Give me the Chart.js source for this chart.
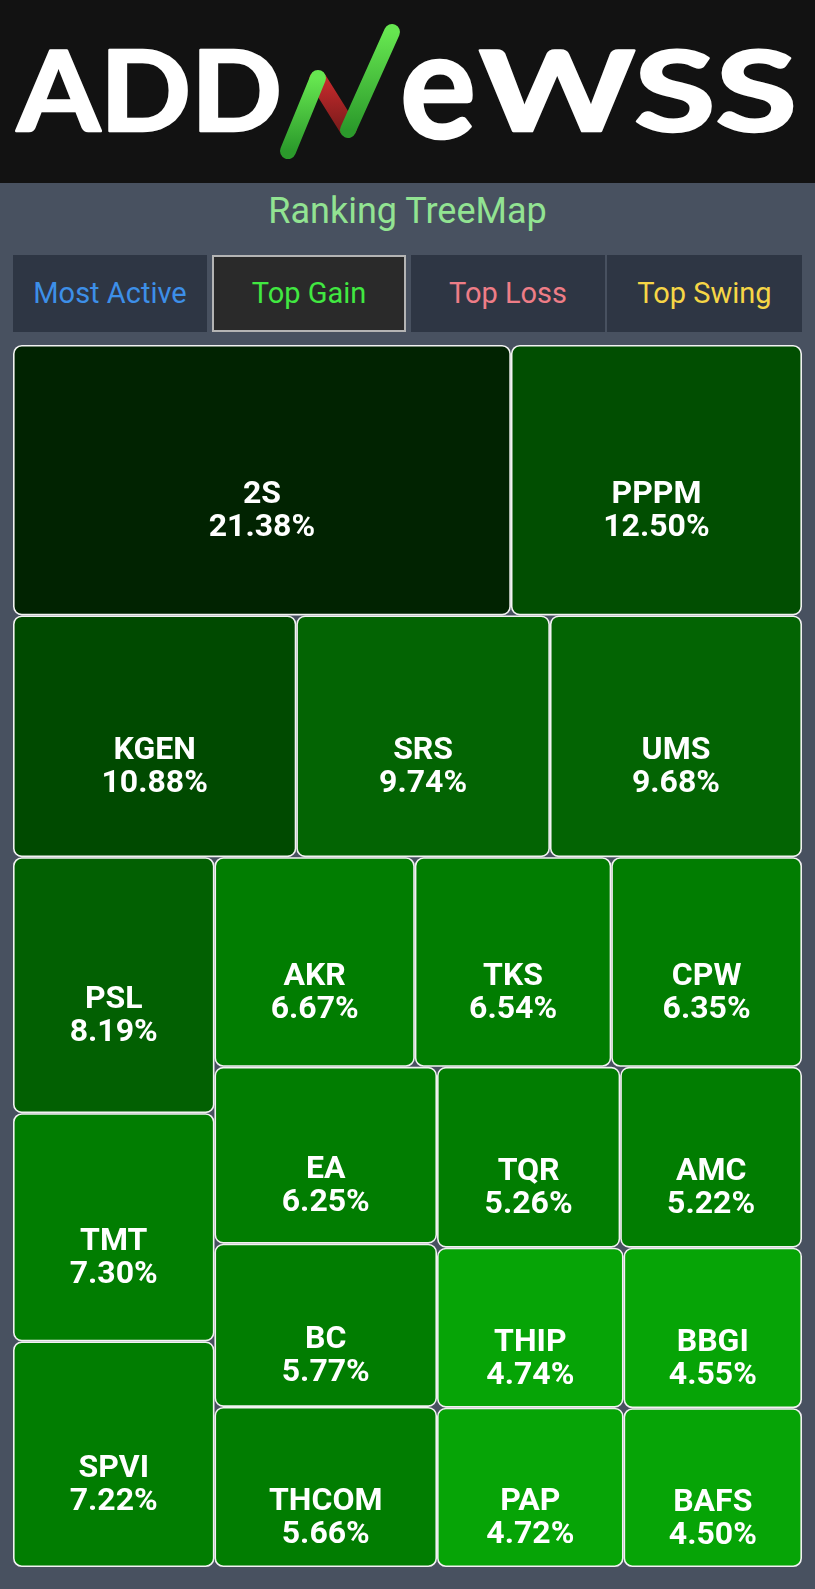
<!DOCTYPE html>
<html>
<head>
<meta charset="utf-8">
<title>Ranking TreeMap</title>
<script src="https://cdn.jsdelivr.net/npm/chart.js@4.4.1/dist/chart.umd.min.js"></script>
<style>
  html, body { margin: 0; padding: 0; }
  body { width: 815px; height: 1589px; overflow: hidden; background: #485160; font-family: Roboto, sans-serif; position: relative; }
  .header { position: absolute; left: 0; top: 0; width: 815px; height: 183px; background: #121212; }
  .title { position: absolute; left: 0; top: 186px; width: 815px; height: 50px; line-height: 50px; text-align: center; font-size: 36px; color: #92e392; }
  .tab { position: absolute; top: 255px; height: 77px; width: 194px; line-height: 77px; text-align: center; font-size: 29px; background: #2e3644; box-sizing: border-box; }
  .tab.active { background: #2a2a2a; border: 2px solid #b4b4b4; line-height: 73px; }
  .chart-box { position: absolute; left: 13px; top: 345px; width: 789px; height: 1222px; }
</style>
</head>
<body>
<div class="header">
  <svg width="815" height="183" viewBox="0 0 815 183">
    <defs>
      <linearGradient id="grn" x1="0" y1="1" x2="0" y2="0">
        <stop offset="0" stop-color="#2b9a2b"/>
        <stop offset="1" stop-color="#66e650"/>
      </linearGradient>
      <linearGradient id="red" x1="0" y1="0" x2="0" y2="1">
        <stop offset="0" stop-color="#c52a2c"/>
        <stop offset="1" stop-color="#7e1c1c"/>
      </linearGradient>
    </defs>
    <g font-family="Lato, 'DejaVu Sans', sans-serif" font-weight="bold" fill="#fff" stroke="#fff" stroke-width="2.5" stroke-linejoin="round">
      <text x="17" y="131" font-size="112" textLength="265" lengthAdjust="spacingAndGlyphs">ADD</text>
      <text x="400" y="138" font-size="150" textLength="76" lengthAdjust="spacingAndGlyphs">e</text>
      <text x="479" y="131" font-size="112" textLength="318" lengthAdjust="spacingAndGlyphs">WSS</text>
    </g>
    <g stroke-linecap="round" fill="none">
      <line x1="318" y1="80" x2="348" y2="128" stroke="url(#red)" stroke-width="18"/>
      <line x1="288" y1="151" x2="318" y2="78" stroke="url(#grn)" stroke-width="16"/>
      <line x1="348" y1="130" x2="392" y2="32" stroke="url(#grn)" stroke-width="16"/>
    </g>
  </svg>
</div>
<div class="title">Ranking TreeMap</div>
<div class="tab" style="left:13px;color:#3d8fe8;">Most Active</div>
<div class="tab active" style="left:212px;color:#41e841;">Top Gain</div>
<div class="tab" style="left:411px;color:#ee7d87;">Top Loss</div>
<div class="tab" style="left:607px;width:195px;color:#f6d646;">Top Swing</div>
<div class="chart-box"><canvas id="treemap"></canvas></div>

<script>
'use strict'

// TOP GAIN - ticker and % change
const tickers = ['2S', 'PPPM', 'KGEN', 'SRS', 'UMS', 'PSL', 'TMT', 'SPVI', 'AKR', 'TKS',
  'CPW', 'EA', 'BC', 'THCOM', 'TQR', 'AMC', 'THIP', 'PAP', 'BBGI', 'BAFS']
const gains = [21.38, 12.50, 10.88, 9.74, 9.68, 8.19, 7.30, 7.22, 6.67, 6.54,
  6.35, 6.25, 5.77, 5.66, 5.26, 5.22, 4.74, 4.72, 4.55, 4.50]

// bigger gain -> darker green
function cellColor(v) {
  if (v >= 20) return '#012301'
  if (v >= 12) return '#014e01'
  if (v >= 10) return '#004a00'
  if (v >= 9) return '#036403'
  if (v >= 8) return '#026002'
  if (v >= 5) return '#017d01'
  return '#06a406'
}

// squarified layout, values must be sorted big -> small
function squarify(values, rect) {
  const total = values.reduce((a, b) => a + b, 0)
  const k = rect.w * rect.h / total
  const worst = (row, side) => {
    const s = row.reduce((a, b) => a + b, 0)
    return Math.max(side * side * Math.max(...row) / (s * s), (s * s) / (side * side * Math.min(...row)))
  }
  const out = []
  let r = { ...rect }
  let i = 0
  while (i < values.length) {
    const side = Math.min(r.w, r.h)
    let row = [values[i] * k]
    let j = i + 1
    while (j < values.length) {
      const next = row.concat(values[j] * k)
      if (worst(next, side) > worst(row, side)) break
      row = next
      j++
    }
    const s = row.reduce((a, b) => a + b, 0)
    if (r.w <= r.h) {
      const h = s / r.w
      let x = r.x
      row.forEach((a, n) => { const w = a / h; out.push({ idx: i + n, x, y: r.y, w, h }); x += w })
      r = { x: r.x, y: r.y + h, w: r.w, h: r.h - h }
    } else {
      const w = s / r.h
      let y = r.y
      row.forEach((a, n) => { const h = a / w; out.push({ idx: i + n, x: r.x, y, w, h }); y += h })
      r = { x: r.x + w, y: r.y, w: r.w - w, h: r.h }
    }
    i = j
  }
  return out
}

const treemapPlugin = {
  id: 'treemapCells',
  afterDatasetsDraw(chart) {
    const { ctx, chartArea, scales } = chart
    const aw = chartArea.right - chartArea.left
    const ah = chartArea.bottom - chartArea.top
    // layout in units of the x / y scales (0..1), keeping the area's proportions
    const cells = squarify(gains, { x: 0, y: 0, w: aw, h: ah })
      .map(c => ({ idx: c.idx, x0: c.x / aw, x1: (c.x + c.w) / aw, y0: c.y / ah, y1: (c.y + c.h) / ah }))

    ctx.save()
    cells.forEach(c => {
      const left = scales.x.getPixelForValue(c.x0)
      const right = scales.x.getPixelForValue(c.x1)
      const top = scales.y.getPixelForValue(c.y0)
      const bottom = scales.y.getPixelForValue(c.y1)
      const pad = 0.8
      ctx.beginPath()
      ctx.roundRect(left + pad, top + pad, right - left - pad * 2, bottom - top - pad * 2, 8)
      ctx.fillStyle = cellColor(gains[c.idx])
      ctx.fill()
      ctx.lineWidth = 1.6
      ctx.strokeStyle = '#f2f2f2'
      ctx.stroke()

      const cx = (left + right) / 2
      const cy = (top + bottom) / 2
      ctx.fillStyle = '#ffffff'
      ctx.font = 'bold 32px Roboto'
      ctx.textAlign = 'center'
      ctx.textBaseline = 'alphabetic'
      ctx.fillText(tickers[c.idx], cx, cy + 23)
      ctx.fillText(gains[c.idx].toFixed(2) + '%', cx, cy + 56)
    })
    ctx.restore()
  }
}

new Chart(document.getElementById('treemap'), {
  type: 'scatter',
  data: {
    datasets: [{ label: 'Top Gain', data: [], pointRadius: 0 }]
  },
  options: {
    responsive: true,
    maintainAspectRatio: false,
    animation: false,
    layout: { padding: 0 },
    plugins: {
      legend: { display: false },
      tooltip: { enabled: false }
    },
    scales: {
      x: { type: 'linear', min: 0, max: 1, display: false },
      y: { type: 'linear', min: 0, max: 1, reverse: true, display: false }
    }
  },
  plugins: [treemapPlugin]
})
</script>
</body>
</html>
